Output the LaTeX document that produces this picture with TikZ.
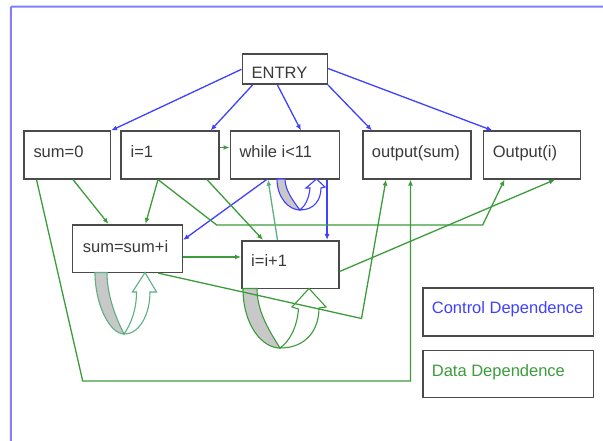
\documentclass[tikz,border=0pt]{standalone}
\usepackage{fontspec}
\setmainfont{Liberation Sans}
\usetikzlibrary{arrows.meta,calc}
\definecolor{cblue}{HTML}{4040FF}
\definecolor{cgreen}{HTML}{3C9C3C}
\definecolor{cteal}{HTML}{5DAF86}
\definecolor{frameblue}{HTML}{8080FF}
\definecolor{boxgray}{HTML}{4A4A4A}
\definecolor{txtgray}{HTML}{3A3A3A}
\definecolor{backgray}{HTML}{C8C8C8}
\begin{document}
\begin{tikzpicture}[x=1pt,y=-1pt,
  box/.style={draw=boxgray,line width=1.6pt,fill=white,rectangle,inner sep=0pt,anchor=north west},
  lbl/.style={anchor=base west,inner sep=0pt,text=txtgray,font=\fontsize{16.5}{18}\selectfont},
  tip/.style={-{Latex[length=6pt,width=5pt]}},
  ctrl/.style={draw=cblue,line width=1.3pt,tip},
  data/.style={draw=cgreen,line width=1.3pt,tip},
  ldata/.style={draw=cteal,line width=1.3pt,tip},
  loopback/.style={fill=backgray,line width=1.1pt},
  loopfront/.style={fill=white,line width=1.1pt}]
\useasboundingbox (0,0) rectangle (603,441);
\fill[white] (0,0) rectangle (603,441);
\begin{scope}
\clip (0,0) rectangle (603,441);
\draw[frameblue,line width=2pt,rounded corners=1pt] (10.8,6.7) rectangle (620,460);
\end{scope}
% boxes
\node[box,minimum width=85pt,minimum height=30pt] (entry) at (241.5,53.5) {};
\node[box,minimum width=86.5pt,minimum height=47.5pt] (s0) at (23,130.5) {};
\node[box,minimum width=98pt,minimum height=47.5pt] (i1) at (120,130.5) {};
\node[box,minimum width=109pt,minimum height=47.5pt] (wh) at (229.5,130.5) {};
\node[box,minimum width=108pt,minimum height=47.5pt] (os) at (362,130.5) {};
\node[box,minimum width=97pt,minimum height=47.5pt] (oi) at (482.5,130.5) {};
\node[box,minimum width=110pt,minimum height=47.5pt] (ss) at (71.5,224) {};
\node[box,minimum width=97pt,minimum height=47.5pt] (ii) at (241,240) {};
\node[box,minimum width=170.5pt,minimum height=48pt] (cd) at (422,287) {};
\node[box,minimum width=170.5pt,minimum height=47pt] (dd) at (422,349.5) {};
% labels
\node[lbl] (entryt) at (251.5,79) {ENTRY};
\node[lbl] (s0t) at (33.3,158) {sum=0};
\node[lbl] (i1t) at (130.5,158) {i=1};
\node[lbl] (wht) at (239.3,158) {while i<11};
\node[lbl] (ost) at (371.7,158) {output(sum)};
\node[lbl] (oit) at (492.7,158) {Output(i)};
\node[lbl] (sst) at (82.7,252.3) {sum=sum+i};
\node[lbl] (iit) at (251,266.7) {i=i+1};
\node[lbl,text=cblue] (cdt) at (431.7,313) {Control Dependence};
\node[lbl,text=cgreen] (ddt) at (431.7,376.7) {Data Dependence};
% self loops
\filldraw[draw=cteal,loopback] (95,272.5) .. controls (95,305) and (110,334) .. (124,334) .. controls (116,318) and (107,296) .. (107,272.5) -- cycle;
\filldraw[draw=cteal,loopfront] (124,334) .. controls (141,334) and (150,312) .. (150,292) -- (156.5,292) -- (145,272.5) -- (132.5,292) -- (136.5,292) .. controls (136.5,310) and (131,324) .. (124,334) -- cycle;
\filldraw[draw=cgreen,loopback] (243,288.5) .. controls (243,325) and (262,348) .. (280,348) .. controls (270,332) and (257,312) .. (257,288.5) -- cycle;
\filldraw[draw=cgreen,loopfront] (280,348) .. controls (306,348) and (319,330) .. (319,308) -- (326,307) -- (309,288.5) -- (292,307) -- (298.5,309) .. controls (297,328) and (289,342) .. (280,348) -- cycle;
\filldraw[draw=cblue,loopback] (277,179) .. controls (277,198) and (289,210) .. (300,210) .. controls (293,201) and (285,190) .. (285,179) -- cycle;
\filldraw[draw=cblue,loopfront] (300,210) .. controls (314,210) and (321,200) .. (321,188) -- (325,187) -- (316.5,179) -- (306,188) -- (310,188) .. controls (309,199) and (305,206) .. (300,210) -- cycle;
% bend points
\coordinate (b1) at (216.7,225);
\coordinate (b2) at (482.7,225);
\coordinate (b3) at (82.7,381);
\coordinate (b4) at (410.5,381);
\coordinate (b5) at (361.5,318.5);
% control dependences
\draw[ctrl] (entry.west) -- (s0.north east);
\draw[ctrl] ([xshift=11pt]entry.south west) -- ([xshift=-9pt]i1.north east);
\draw[ctrl] ([xshift=36pt]entry.south west) -- ([xshift=71.5pt]wh.north west);
\draw[ctrl] (entry.south east) -- ([xshift=10pt]os.north west);
\draw[ctrl] ([yshift=-15pt]entry.north east) -- ([xshift=10pt]oi.north west);
\draw[ctrl] ([xshift=37pt]wh.south west) -- ([yshift=-16pt]ss.north east);
\draw[ctrl] ([xshift=-13pt]wh.south east) -- ([xshift=-12.5pt]ii.north east);
% data dependences
\draw[data] ([yshift=-17pt]i1.north east) -- ([yshift=-17pt]wh.north west);
\draw[data] ([xshift=50pt]s0.south west) -- ([xshift=37pt]ss.north west);
\draw[data] ([xshift=38pt]i1.south west) -- ([xshift=74pt]ss.north west);
\draw[data] ([xshift=38pt]i1.south west) -- (b1) -- (b2) -- ([xshift=22pt]oi.south west);
\draw[data] ([xshift=87pt]i1.south west) -- ([xshift=22pt]ii.north west);
\draw[data] ([xshift=13.5pt]s0.south west) -- (b3) -- (b4) -- ([xshift=48.5pt]os.south west);
\draw[data,line width=2pt] ([yshift=-33pt]ss.north east) -- ([yshift=-17pt]ii.north west);
\draw[data] ([xshift=-25pt]ss.south east) -- (b5) -- ([xshift=24pt]os.south west);
\draw[data] ([yshift=-31.5pt]ii.north east) -- ([xshift=-26pt]oi.south east);
\draw[ldata] ([xshift=36.5pt]ii.north west) -- ([xshift=38.5pt]wh.south west);
\end{tikzpicture}
\end{document}
